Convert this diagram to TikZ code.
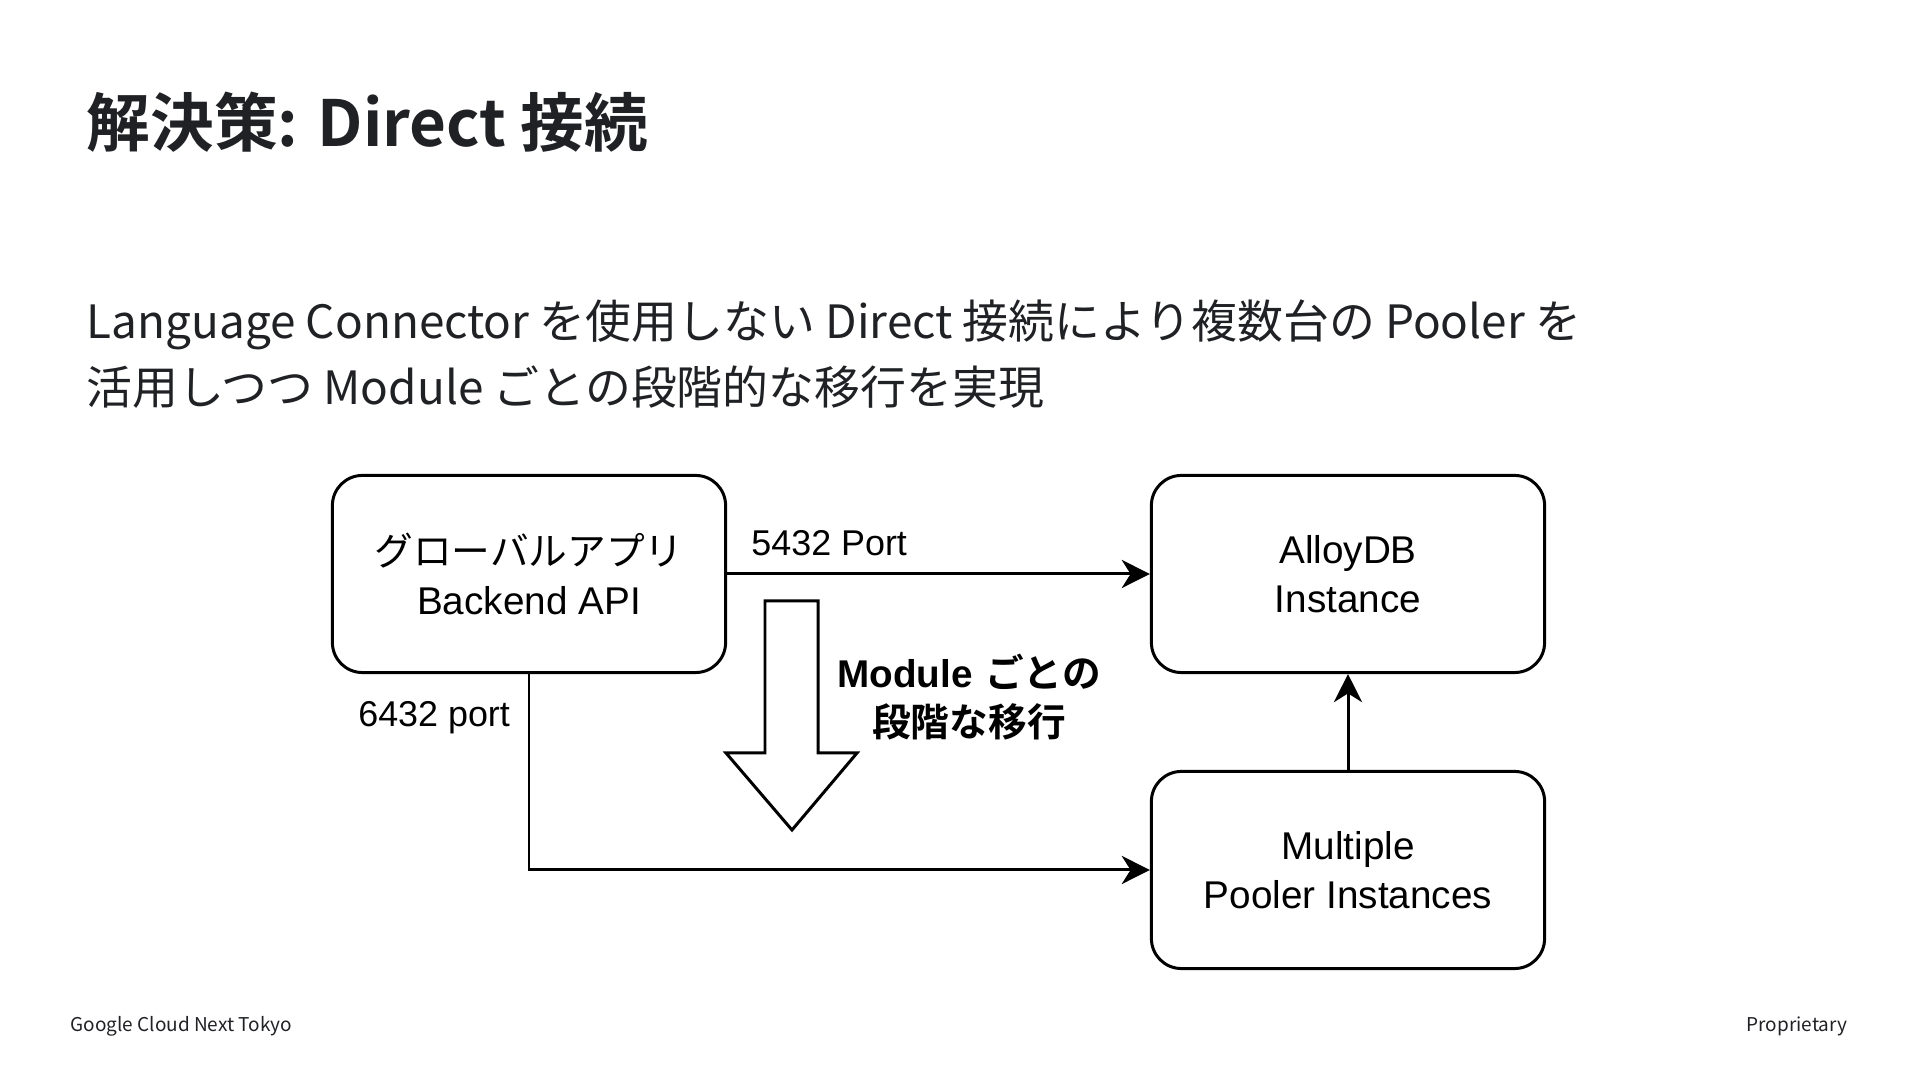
\documentclass[tikz,border=0pt]{standalone}
\usepackage{fontspec}
\newfontfamily\cjk{Noto Sans CJK JP}[BoldFont={Noto Sans CJK JP Bold}]
\newfontfamily\helv{Liberation Sans}
\usetikzlibrary{arrows.meta}
\definecolor{inkgray}{HTML}{202124}

\begin{document}
\begin{tikzpicture}[x=0.01cm, y=-0.01cm,
box/.style={draw, line width=0.85pt, rounded corners=0.3cm, minimum width=3.93cm, minimum height=1.97cm, align=center, inner sep=0pt, font=\helv\fontsize{11}{14}\selectfont},
arrowlabel/.style={font=\helv\fontsize{10.2}{13}\selectfont, inner sep=1pt},
arrow/.style={-{Stealth[length=8pt,width=8pt,inset=2.5pt]}, line width=0.85pt},
slidetext/.style={text=inkgray, inner sep=0pt} ]

\useasboundingbox (0,0) rectangle (1920,1080);

\node[slidetext, anchor=west, font=\cjk\bfseries\fontsize{18.1}{22}\selectfont] (title) at (86,122) {解決策: Direct 接続};

\node[slidetext, anchor=north west, align=left, font=\cjk\fontsize{13.05}{18.8}\selectfont] (lead) at (86,299) {Language Connector を使用しない Direct 接続により複数台の Pooler を\\活用しつつ Module ごとの段階的な移行を実現};

\node[box] (app) at (529,574) {{\cjk グローバルアプリ}\\Backend API};

\node[box] (alloy) at (1348,574) {AlloyDB\\Instance};

\node[box] (pooler) at (1348,870) {Multiple\\Pooler Instances};

\draw[arrow] (app) -- node[arrowlabel, pos=0, anchor=south west, xshift=5.5pt, yshift=3.6pt] {5432 Port} (alloy);

\draw[arrow] (app.south) |- node[arrowlabel, pos=0, anchor=north east, xshift=-4pt, yshift=-6.4pt] {6432 port} (pooler.west);

\draw[arrow] (pooler) -- (alloy);

% migration hint
\draw[line width=0.85pt, fill=white] (765,601) -- (818,601) -- (818,753) -- (857,753) -- (792,830) -- (726,753) -- (765,753) -- cycle;

\node[align=center, inner sep=0pt, font=\fontsize{11}{14}\selectfont] (migrate) at (969,697) {{\helv\bfseries Module} {\cjk\bfseries ごとの}\\{\cjk\bfseries 段階な移行}};

\node[slidetext, anchor=west, font=\cjk\fontsize{5.4}{7}\selectfont] (venue) at (70,1026) {Google Cloud Next Tokyo};

\node[slidetext, anchor=east, font=\cjk\fontsize{5.4}{7}\selectfont] (tag) at (1848,1026) {Proprietary};

\end{tikzpicture}
\end{document}
